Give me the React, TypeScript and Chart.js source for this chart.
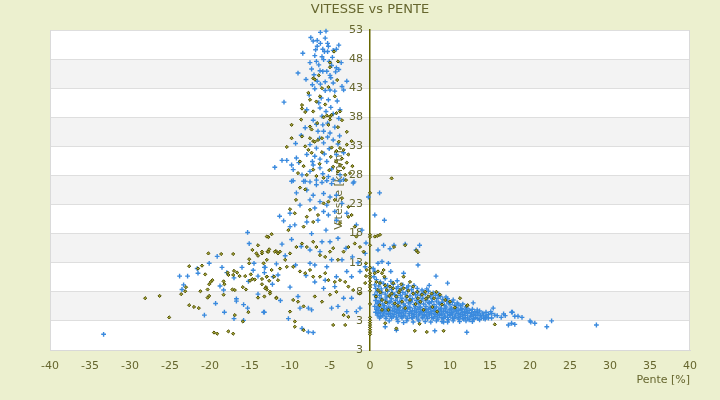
import { useEffect, useRef } from 'react'
import { Chart, registerables } from 'chart.js'

Chart.register(...registerables)

// [pente %, vitesse km/h]
const bluePoints: [number, number][] = [
  // left wing
  [-15.3, 18.2], [-15.1, 16.3], [-19.1, 14.1], [-20.1, 12.9], [-18.5, 12.2], [-21.6, 12.0], [-21.5, 11.2], [-23.8, 10.7],
  [-22.8, 10.7], [-23.5, 8.4], [-18.75, 9.0], [-18.3, 8.3], [-17.9, 11.3], [-17.0, 10.4], [-16.0, 12.2], [-14.5, 12.9],
  [-14.6, 11.7], [-14.0, 10.7], [-13.2, 12.2], [-13.2, 11.3], [-11.7, 12.8], [-11.5, 10.9], [-12.2, 9.3], [-15.2, 9.8],
  [-14.0, 7.6], [-16.7, 6.8], [-16.7, 6.4], [-19.3, 6.0], [-15.8, 5.8], [-15.3, 5.2], [-13.2, 4.5], [-18.2, 4.5],
  [-20.7, 4.0], [-17.0, 3.4], [-15.8, 3.1], [-33.3, 0.7], [-23.3, 9.2],
  // upper column
  [-7.4, 51.7], [-6.2, 52.6], [-5.5, 52.8], [-7.1, 51.1], [-6.6, 51.2], [-6.2, 50.7], [-6.6, 50.2], [-5.3, 50.7],
  [-5.2, 50.2], [-3.9, 50.4], [-4.2, 49.7], [-4.6, 49.5], [-5.3, 49.3], [-5.9, 49.7], [-5.7, 49.3], [-7.5, 47.4],
  [-9.0, 45.6], [-6.7, 47.6], [-6.4, 47.0], [-5.8, 47.9], [-5.1, 47.6], [-4.8, 46.9], [-4.2, 46.5], [-3.9, 46.2],
  [-4.3, 45.8], [-5.4, 45.9], [-5.9, 45.9], [-6.25, 46.0], [-6.6, 44.2], [-6.2, 43.7], [-5.6, 42.6], [-5.0, 42.7],
  [-4.4, 42.5], [-3.5, 43.3], [-2.9, 44.2], [-3.3, 42.7], [-4.6, 43.9], [-10.75, 40.6], [-7.9, 39.3], [-6.25, 39.6],
  [-4.9, 39.7], [-4.6, 38.6], [-3.75, 39.3], [-5.5, 39.0], [-8.1, 36.2], [-6.7, 36.8], [-5.8, 35.6], [-5.0, 35.3],
  [-4.6, 34.1], [-5.8, 33.6], [-6.7, 32.7], [-7.5, 33.3], [-7.9, 31.6], [-9.2, 31.0], [-11.0, 30.6], [-10.4, 30.6],
  [-9.8, 29.8], [-9.6, 29.0], [-8.5, 28.1], [-7.5, 28.7], [-6.25, 29.3], [-5.4, 30.4], [-4.2, 31.6], [-3.3, 31.9],
  [-6.25, 30.8], [-7.1, 29.8], [-5.2, 27.8], [-4.6, 27.3], [-3.75, 28.1], [-2.1, 26.7], [-8.3, 27.0], [-9.8, 27.0],
  [-6.7, 26.4], [-8.0, 44.5], [-7.0, 45.3], [-4.9, 44.8], [-5.6, 44.1], [-6.9, 42.9], [-7.6, 41.8], [-6.1, 41.3],
  [-5.2, 41.0], [-4.1, 40.8], [-8.4, 49.0], [-6.9, 48.6], [-4.7, 48.3], [-5.6, 51.6], [-6.8, 49.6], [-6.0, 38.2],
  [-7.1, 37.5], [-5.3, 37.0], [-4.4, 36.3], [-3.9, 37.8], [-8.6, 34.9], [-6.3, 34.4], [-3.8, 34.8], [-5.1, 32.6],
  [-4.0, 33.4], [-9.3, 33.5], [-11.9, 29.4], [-8.9, 30.2], [-6.9, 31.3], [-5.7, 31.7],
  [-6.0, 48.4], [-5.0, 45.2], [-7.3, 46.3], [-3.6, 47.4], [-6.4, 40.5], [-7.2, 43.6], [-5.9, 36.7], [-6.5, 35.6],
  [-5.3, 34.6], [-7.2, 30.4], [-4.8, 29.1], [-5.9, 28.3],
  // middle column
  [-9.6, 27.1], [-8.1, 27.0], [-7.5, 26.9], [-6.7, 27.2], [-6.0, 26.8], [-5.4, 27.1], [-4.8, 26.6], [-3.75, 27.0],
  [-3.3, 27.3], [-2.0, 26.9], [-9.2, 25.0], [-7.9, 25.5], [-7.1, 24.6], [-5.8, 24.9], [-5.0, 24.3], [-4.2, 24.6],
  [-3.5, 23.2], [-5.4, 22.9], [-6.25, 23.5], [-7.5, 23.8], [-6.9, 22.4], [-5.8, 21.8], [-5.2, 21.2], [-4.4, 21.8],
  [-2.9, 21.5], [-4.2, 20.3], [-6.5, 20.3], [-7.9, 20.0], [-8.75, 22.9], [-10.0, 21.5], [-11.3, 21.0], [-10.8, 20.2],
  [-10.0, 19.2], [-9.4, 19.5], [-1.7, 19.5], [-1.0, 18.6], [-11.0, 16.2], [-6.0, 16.6], [-5.0, 16.6], [-7.5, 15.2],
  [-6.25, 14.9], [-4.8, 13.5], [-3.5, 13.5], [-6.9, 12.6], [-7.5, 12.9], [-5.4, 12.3], [-2.9, 11.5], [-2.3, 10.6],
  [-1.25, 11.5], [-4.2, 10.6], [-5.6, 10.0], [-6.9, 9.7], [-5.8, 8.6], [-4.4, 8.9], [-3.3, 6.9], [-2.3, 6.9],
  [-1.25, 5.2], [-4.0, 5.5], [-4.8, 5.2], [-7.3, 4.9], [-7.7, 5.2], [-8.75, 5.2], [-2.9, 4.6], [-1.7, 4.6],
  [-12.1, 10.6], [-13.1, 12.2], [-13.3, 4.5], [-8.5, 1.7], [-7.7, 1.1], [-7.1, 1.0], [-10.2, 3.4], [-10.0, 8.8],
  [-9.0, 7.2], [-11.2, 6.5], [-8.0, 10.8], [-9.3, 12.6], [-10.6, 14.2], [-8.6, 15.8], [-9.8, 17.0], [-7.3, 18.0],
  [-5.5, 18.6], [-4.0, 17.2], [-3.0, 15.5], [-2.2, 14.0], [-1.5, 13.0], [-0.6, 12.3], [-0.5, 16.4], [-0.6, 14.6],
  // right of the axis, sparse
  [1.2, 25.0], [0.6, 21.2], [1.8, 20.3], [-0.2, 24.3], [1.0, 15.2], [1.7, 16.0], [2.5, 15.4], [3.0, 16.0],
  [4.4, 16.2], [6.2, 16.0], [5.75, 15.2], [6.0, 12.6], [1.0, 12.9], [1.5, 13.2], [2.3, 12.9], [0.4, 12.0],
  [0.6, 11.5], [4.2, 11.2], [2.6, 11.5], [8.25, 10.7], [9.7, 9.5], [7.4, 9.1], [12.9, 6.1], [15.4, 5.2],
  [16.7, 4.2], [17.7, 4.5], [19.0, 3.6], [20.0, 3.0], [20.6, 2.6], [22.1, 2.0], [22.7, 3.0], [12.1, 1.05],
  [8.1, 1.3], [3.3, 1.4], [1.9, 2.0], [4.2, 2.7], [17.8, 4.5], [18.1, 3.8], [18.5, 3.8], [20.1, 2.8],
  [28.3, 2.3], [40.7, 0.7], [17.3, 2.3], [17.7, 2.6], [18.1, 2.4], [9.2, 2.8], [15.9, 3.9], [16.4, 3.6],
  [15.2, 4.3], [16.9, 3.9], [14.8, 3.5],
  // dense cluster on the descent
  [0.8, 10.1], [1.3, 9.7], [1.9, 10.3], [2.6, 9.8], [3.4, 9.9], [0.5, 10.6],
  [0.6, 9.2], [1.1, 9.0], [1.7, 9.4], [2.2, 9.1], [2.9, 9.3], [3.5, 8.9], [4.1, 9.2], [4.8, 9.0], [5.5, 9.1],
  [0.7, 8.6], [1.4, 8.5], [2.0, 8.7], [2.7, 8.4], [3.3, 8.6], [3.9, 8.5], [4.6, 8.7], [5.2, 8.4], [5.9, 8.6],
  [6.5, 8.3], [7.1, 8.5],
  [0.9, 8.0], [1.5, 7.9], [2.2, 8.1], [2.8, 7.8], [3.5, 8.0], [4.1, 7.9], [4.7, 8.1], [5.4, 7.8], [6.0, 8.0],
  [6.7, 7.9], [7.3, 8.1], [7.9, 7.8], [8.6, 7.6],
  [0.6, 7.5], [1.2, 7.4], [1.9, 7.6], [2.5, 7.3], [3.1, 7.5], [3.8, 7.4], [4.4, 7.6], [5.0, 7.3], [5.7, 7.5],
  [6.3, 7.4], [6.9, 7.6], [7.6, 7.3], [8.2, 7.4], [8.8, 7.2], [9.5, 7.1],
  [0.8, 7.0], [1.4, 6.9], [2.1, 7.1], [2.7, 6.8], [3.4, 7.0], [4.0, 6.9], [4.6, 7.1], [5.3, 6.8], [5.9, 7.0],
  [6.6, 6.9], [7.2, 7.0], [7.8, 6.8], [8.5, 6.9], [9.1, 6.7], [9.7, 6.8], [10.4, 6.6],
  [0.7, 6.5], [1.3, 6.4], [1.9, 6.6], [2.6, 6.3], [3.2, 6.5], [3.9, 6.4], [4.5, 6.6], [5.1, 6.3], [5.8, 6.5],
  [6.4, 6.4], [7.0, 6.5], [7.7, 6.3], [8.3, 6.4], [9.0, 6.2], [9.6, 6.4], [10.3, 6.2], [10.9, 6.1], [11.6, 5.9],
  [1.1, 6.25], [2.4, 6.2], [3.7, 6.3], [5.0, 6.15], [6.2, 6.25], [7.4, 6.2], [8.6, 6.1], [9.8, 6.05], [11.0, 5.9],
  [0.9, 6.0], [1.6, 5.9], [2.2, 6.1], [2.9, 5.8], [3.5, 6.0], [4.2, 5.9], [4.8, 6.1], [5.5, 5.8], [6.1, 6.0],
  [6.7, 5.9], [7.4, 6.0], [8.0, 5.8], [8.7, 5.9], [9.3, 5.7], [10.0, 5.8], [10.6, 5.7], [11.3, 5.6], [12.0, 5.4],
  [0.6, 5.5], [1.2, 5.4], [1.8, 5.6], [2.5, 5.3], [3.1, 5.5], [3.8, 5.4], [4.4, 5.6], [5.0, 5.3], [5.7, 5.5],
  [6.3, 5.4], [7.0, 5.5], [7.6, 5.3], [8.3, 5.4], [8.9, 5.2], [9.5, 5.4], [10.2, 5.2], [10.8, 5.3], [11.5, 5.1],
  [12.1, 5.2], [12.8, 5.0], [13.4, 4.9],
  [1.0, 5.25], [1.7, 5.2], [2.3, 5.3], [3.0, 5.2], [3.6, 5.25], [4.3, 5.15], [4.9, 5.3], [5.6, 5.2], [6.2, 5.25],
  [6.9, 5.1], [7.5, 5.2], [8.1, 5.15], [8.8, 5.05], [9.4, 5.1], [10.1, 5.0], [10.7, 5.05], [11.4, 4.95], [12.0, 4.9],
  [0.8, 5.0], [1.5, 4.9], [2.1, 5.1], [2.8, 4.8], [3.4, 5.0], [4.1, 4.9], [4.7, 5.1], [5.3, 4.8], [6.0, 5.0],
  [6.6, 4.9], [7.3, 5.0], [7.9, 4.8], [8.6, 4.9], [9.2, 4.7], [9.9, 4.9], [10.5, 4.7], [11.1, 4.8], [11.8, 4.6],
  [12.4, 4.8], [13.1, 4.6], [13.7, 4.7], [14.5, 4.5], [15.1, 4.6],
  [1.1, 4.75], [1.8, 4.7], [2.4, 4.8], [3.1, 4.65], [3.7, 4.75], [4.4, 4.7], [5.0, 4.6], [5.6, 4.7], [6.3, 4.65],
  [6.9, 4.75], [7.6, 4.6], [8.2, 4.65], [8.9, 4.55], [9.5, 4.6], [10.2, 4.5], [10.8, 4.55], [11.5, 4.45], [12.1, 4.5],
  [12.7, 4.4], [13.4, 4.45], [14.1, 4.35],
  [0.7, 4.5], [1.3, 4.4], [2.0, 4.6], [2.6, 4.3], [3.3, 4.5], [3.9, 4.4], [4.5, 4.6], [5.2, 4.3], [5.8, 4.5],
  [6.5, 4.4], [7.1, 4.5], [7.7, 4.3], [8.4, 4.4], [9.0, 4.2], [9.7, 4.4], [10.3, 4.2], [11.0, 4.3], [11.6, 4.1],
  [12.2, 4.3], [12.9, 4.1], [13.5, 4.2], [14.2, 4.0], [14.8, 4.1], [15.6, 4.0],
  [1.0, 4.25], [1.7, 4.2], [2.3, 4.3], [3.0, 4.15], [3.6, 4.25], [4.2, 4.2], [4.9, 4.3], [5.5, 4.15], [6.2, 4.2],
  [6.8, 4.1], [7.4, 4.2], [8.1, 4.1], [8.7, 4.15], [9.3, 4.0], [10.0, 4.1], [10.7, 4.0], [11.3, 4.05], [11.9, 3.95],
  [12.6, 4.0], [13.2, 3.9], [13.8, 3.95], [14.5, 3.85],
  [0.9, 4.0], [1.6, 3.9], [2.3, 4.1], [2.9, 3.8], [3.6, 4.0], [4.2, 3.9], [4.9, 4.0], [5.5, 3.8], [6.1, 4.0],
  [6.8, 3.9], [7.4, 4.0], [8.1, 3.8], [8.7, 3.9], [9.4, 3.7], [10.0, 3.9], [10.6, 3.7], [11.3, 3.8], [11.9, 3.6],
  [12.6, 3.8], [13.2, 3.6], [13.9, 3.7], [14.5, 3.6], [15.2, 3.5],
  [1.3, 3.75], [2.0, 3.7], [2.6, 3.8], [3.3, 3.65], [3.9, 3.75], [4.5, 3.7], [5.2, 3.6], [5.8, 3.7], [6.5, 3.65],
  [7.1, 3.7], [7.7, 3.6], [8.4, 3.65], [9.0, 3.55], [9.7, 3.6], [10.3, 3.5], [11.0, 3.55], [11.6, 3.45], [12.2, 3.5],
  [12.9, 3.45], [13.5, 3.4], [14.2, 3.45],
  [1.2, 3.5], [2.0, 3.4], [2.7, 3.5], [3.4, 3.3], [4.0, 3.5], [4.7, 3.4], [5.3, 3.5], [6.0, 3.3], [6.6, 3.5],
  [7.2, 3.4], [7.9, 3.4], [8.5, 3.3], [9.2, 3.4], [9.8, 3.2], [10.5, 3.4], [11.1, 3.3], [11.7, 3.3], [12.4, 3.2],
  [13.0, 3.3], [13.7, 3.2], [14.4, 3.3],
  [2.4, 3.0], [3.5, 2.9], [4.6, 3.0], [5.4, 2.8], [6.1, 3.0], [6.9, 2.9], [7.6, 2.8], [8.3, 3.0], [9.0, 2.9],
  [9.7, 2.8], [10.4, 3.0], [11.2, 2.9], [12.0, 3.0], [12.8, 2.9],
]

const olivePoints: [number, number][] = [
  // left wing
  [-12.3, 17.9], [-12.7, 17.4], [-14.0, 16.0], [-14.7, 15.2], [-20.2, 14.6], [-18.6, 14.5], [-17.1, 14.5],
  [-14.2, 14.6], [-13.5, 14.6], [-14.0, 14.2], [-12.6, 15.3], [-12.8, 14.9], [-11.75, 15.0], [-11.5, 14.6],
  [-15.1, 13.6], [-15.1, 12.9], [-22.6, 12.4], [-21.0, 12.5], [-21.5, 12.0], [-20.6, 11.0],
  [-17.8, 11.3], [-17.0, 11.6], [-16.6, 11.3], [-17.7, 10.9], [-17.1, 10.9],
  [-16.3, 10.7], [-15.6, 10.7], [-14.9, 11.0], [-14.7, 10.2], [-15.0, 9.9], [-14.4, 10.1], [-13.5, 10.2],
  [-12.9, 10.6], [-12.6, 9.9], [-12.0, 10.6], [-11.5, 10.0],
  [-19.7, 10.0], [-19.9, 9.7], [-20.1, 9.3], [-18.3, 9.8], [-18.2, 9.3], [-23.0, 8.8], [-23.1, 8.1], [-23.6, 7.6],
  [-21.2, 8.1], [-20.3, 8.4], [-20.3, 7.0], [-20.1, 7.3], [-18.3, 7.5], [-17.2, 8.4], [-16.9, 8.3], [-15.9, 8.8],
  [-15.5, 8.4], [-13.0, 8.8], [-12.9, 8.4], [-12.5, 8.0], [-14.0, 7.0], [-13.2, 7.2], [-11.7, 7.0], [-28.1, 6.9],
  [-26.3, 7.3], [-22.6, 5.7], [-22.0, 5.4], [-21.4, 5.2], [-25.1, 3.6], [-16.9, 4.0], [-15.2, 4.5], [-15.9, 2.9],
  [-19.5, 1.0], [-19.1, 0.8], [-17.7, 1.2], [-17.1, 0.8],
  // upper column
  [-4.5, 49.3], [-4.0, 47.6], [-5.0, 47.4], [-7.1, 44.7], [-6.9, 44.5], [-5.2, 43.2], [-7.7, 42.2], [-7.5, 41.0],
  [-6.25, 41.6], [-6.7, 40.7], [-8.5, 40.1], [-8.5, 39.5], [-8.1, 38.9], [-7.1, 39.0], [-5.8, 38.0], [-5.4, 38.3],
  [-4.8, 38.4], [-5.0, 37.6], [-5.2, 36.7], [-4.2, 38.7], [-3.75, 39.0], [-9.8, 36.7], [-7.5, 36.4], [-7.3, 35.9],
  [-4.0, 36.3], [-2.9, 35.5], [-9.8, 34.4], [-7.5, 34.4], [-7.1, 33.9], [-6.5, 34.1], [-10.4, 32.9], [-8.1, 33.0],
  [-7.7, 32.4], [-7.3, 31.9], [-4.8, 32.8], [-4.2, 32.2], [-3.75, 32.7], [-3.3, 32.4], [-2.9, 33.3], [-2.3, 33.9],
  [-2.7, 31.6], [-8.75, 30.4], [-8.3, 29.6], [-9.0, 28.4], [-7.9, 28.1], [-7.1, 29.0], [-6.7, 27.9], [-5.8, 27.6],
  [-4.2, 30.4], [-3.75, 29.8], [-3.3, 29.3], [-4.0, 28.7], [-3.1, 28.1], [-2.5, 28.4], [2.7, 27.5],
  [-3.5, 30.9], [-2.9, 30.2], [-4.6, 29.5], [-3.0, 27.2], [-4.9, 31.2], [-3.9, 33.8], [-6.0, 32.0], [-6.3, 30.0],
  [-5.1, 28.9], [-2.2, 29.6], [-8.6, 37.6], [-6.6, 37.0], [-5.6, 40.2], [-4.4, 41.6], [-6.0, 43.0], [-4.1, 44.4],
  [-6.4, 45.2], [-5.0, 46.6], [-5.0, 38.1], [-3.5, 37.5], [-8.5, 34.7], [-6.9, 33.8], [-6.0, 34.4],
  // middle column
  [-8.75, 25.9], [-8.1, 25.6], [-9.25, 23.8], [-10.0, 22.2], [-9.4, 21.5], [-7.5, 22.1], [-7.9, 20.9], [-6.5, 21.2],
  [-5.8, 23.2], [-5.2, 23.5], [-4.4, 23.8], [-3.5, 24.1], [-2.7, 22.6], [-2.3, 21.2], [-1.9, 19.2], [-2.7, 20.9],
  [-3.75, 19.8], [-7.1, 20.0], [-8.3, 19.2], [-10.2, 18.6], [-12.9, 17.5], [-13.5, 14.9], [-12.7, 14.9],
  [-11.9, 14.9], [-11.25, 14.9], [-10.6, 13.5], [-10.0, 14.6], [-9.2, 15.7], [-8.5, 16.3], [-7.9, 15.7],
  [-7.1, 16.6], [-6.7, 15.7], [-6.25, 14.3], [-5.6, 14.0], [-5.0, 14.9], [-4.6, 15.5], [-4.0, 13.5], [-3.3, 14.9],
  [-2.7, 15.7], [-1.9, 16.3], [-1.7, 17.5], [-1.25, 15.7], [-0.8, 14.9], [-13.3, 12.9], [-12.9, 13.5],
  [-12.3, 11.75], [-11.25, 12.0], [-10.4, 12.3], [-9.6, 12.3], [-8.75, 11.5], [-8.1, 11.2], [-7.5, 11.75],
  [-7.1, 10.6], [-6.25, 10.6], [-5.6, 11.2], [-5.2, 10.0], [-4.4, 9.7], [-3.75, 10.0], [-3.1, 9.7], [-2.7, 8.9],
  [-2.1, 8.3], [-1.25, 7.7], [-0.6, 9.5], [-13.5, 9.3], [-12.9, 10.6], [-13.1, 8.6], [-12.5, 7.7], [-11.7, 6.9],
  [-9.6, 6.6], [-9.0, 6.3], [-8.3, 5.5], [-6.9, 7.2], [-6.0, 6.3], [-5.0, 7.5], [-4.2, 8.0], [-3.3, 4.0],
  [-2.7, 3.7], [-4.6, 2.3], [-3.1, 2.3], [-9.4, 2.9], [-9.4, 2.0], [-8.3, 1.4], [-10.0, 4.6],
  [-0.5, 12.9], [-0.4, 11.75], [-0.5, 10.7],
  // on the zero line
  [0, 25.0], [0, 17.8], [0, 17.4], [0, 16.0], [0, 12.2], [0, 11.2], [0, 10.8], [0, 10.4], [0, 9.8], [0, 9.2],
  [0, 8.8], [0, 8.2], [0, 5.9], [0, 3.6], [0, 3.1], [0, 2.7], [0, 2.3], [0, 1.9], [0, 1.5], [0, 1.1], [0, 0.7],
  // right of the axis
  [0.6, 17.5], [0.9, 17.6], [1.25, 17.8], [3.0, 15.7], [4.4, 16.0], [5.8, 15.1], [6.0, 14.8], [0.6, 11.2],
  [1.0, 11.5], [1.5, 11.2], [1.7, 11.75], [1.8, 10.6], [0.8, 9.7], [1.25, 9.5], [1.0, 8.3], [0.75, 7.2],
  [1.5, 6.6], [1.2, 5.7], [1.5, 4.9], [2.1, 8.3], [2.5, 8.9], [2.9, 8.6], [2.7, 7.7], [3.3, 7.2], [3.75, 8.3],
  [4.2, 8.6], [4.6, 7.2], [5.0, 6.6], [4.0, 6.3], [5.4, 7.7], [6.0, 6.9], [6.5, 7.5], [6.9, 8.0], [7.3, 7.2],
  [7.7, 7.7], [8.3, 8.0], [8.75, 7.5], [9.4, 6.6], [10.0, 6.3], [11.25, 6.9], [12.1, 5.6], [3.1, 6.0], [2.3, 4.9],
  [1.9, 2.6], [3.3, 1.7], [5.6, 1.3], [6.2, 2.5], [7.1, 1.1], [9.2, 1.3], [15.6, 2.4], [4.2, 10.6], [5.0, 9.7],
  [5.4, 8.9], [12.2, 5.7], [1.9, 9.1], [2.4, 7.3], [3.6, 7.9], [4.8, 8.2], [5.9, 8.0], [6.3, 6.3], [7.0, 6.8],
  [8.0, 6.9], [3.5, 5.6], [2.0, 6.2], [4.4, 5.2], [5.7, 5.9], [7.8, 5.4], [9.0, 5.8], [10.6, 5.3], [8.4, 4.6],
  [6.7, 4.9], [1.3, 7.9], [2.9, 9.5], [3.9, 9.3],
]

const xMin = -40
const xMax = 40
const xStep = 5
const yTickValues = [-2, 3, 8, 13, 18, 23, 28, 33, 38, 43, 48, 53]
const yTickLabels = ['3', '3', '8', '13', '18', '23', '28', '33', '38', '43', '48', '53']

const FONT = "'DejaVu Sans', Verdana, sans-serif"
const TEXT = '#66662e'

const plotPlugin = {
  id: 'plotDecor',
  beforeDraw(chart: any) {
    const { ctx, chartArea: a, scales } = chart
    const y = scales.y
    ctx.save()
    ctx.fillStyle = '#ffffff'
    ctx.fillRect(a.left, a.top, a.right - a.left, a.bottom - a.top)
    ctx.fillStyle = '#f3f3f3'
    for (let i = 1; i < yTickValues.length - 1; i += 2) {
      const y0 = y.getPixelForValue(yTickValues[i])
      const y1 = y.getPixelForValue(yTickValues[i + 1])
      ctx.fillRect(a.left, y1, a.right - a.left, y0 - y1)
    }
    ctx.restore()
  },
  beforeDatasetsDraw(chart: any) {
    const { ctx, chartArea: a, scales } = chart
    const x0 = scales.x.getPixelForValue(0)
    ctx.save()
    // side borders of the plot
    ctx.strokeStyle = '#dadada'
    ctx.lineWidth = 1
    ctx.beginPath()
    ctx.moveTo(a.left + 0.5, a.top)
    ctx.lineTo(a.left + 0.5, a.bottom)
    ctx.moveTo(a.right - 0.5, a.top)
    ctx.lineTo(a.right - 0.5, a.bottom)
    ctx.stroke()
    // y tick labels beside the zero axis
    ctx.fillStyle = TEXT
    ctx.font = `11px ${FONT}`
    ctx.textAlign = 'right'
    ctx.textBaseline = 'middle'
    yTickValues.forEach((v, i) => {
      ctx.fillText(yTickLabels[i], x0 - 7, scales.y.getPixelForValue(v))
    })
    // y title
    ctx.translate(x0 - 31, (a.top + a.bottom) / 2)
    ctx.rotate(-Math.PI / 2)
    ctx.textAlign = 'center'
    ctx.fillText('Vitesse [km/h]', 0, 0)
    ctx.restore()
  },
}

export default function App() {
  const canvasRef = useRef<HTMLCanvasElement>(null)
  const chartRef = useRef<Chart | null>(null)

  useEffect(() => {
    document.body.style.margin = '0'
    if (!canvasRef.current) return
    if (chartRef.current) chartRef.current.destroy()

    chartRef.current = new Chart(canvasRef.current, {
      type: 'scatter',
      data: {
        datasets: [
          {
            label: 'olive',
            data: olivePoints.map(([x, y]) => ({ x, y })),
            pointStyle: 'rectRot',
            pointRadius: 1.6,
            pointBorderWidth: 1,
            pointBorderColor: '#4f4f00',
            pointBackgroundColor: '#a3a338',
            clip: false,
          },
          {
            label: 'bleu',
            data: bluePoints.map(([x, y]) => ({ x, y })),
            pointStyle: 'cross',
            pointRadius: 2.4,
            pointBorderWidth: 1.4,
            pointBorderColor: '#3a8ade',
            clip: false,
          },
        ],
      },
      options: {
        animation: false,
        responsive: true,
        maintainAspectRatio: false,
        events: [],
        layout: { padding: { left: 50, right: 30, top: 0, bottom: 0 } },
        plugins: {
          legend: { display: false },
          tooltip: { enabled: false },
          title: {
            display: true,
            text: 'VITESSE vs PENTE',
            color: TEXT,
            font: { family: FONT, size: 13, weight: 'normal' },
            padding: { top: 2, bottom: 12.4 },
          },
        },
        scales: {
          x: {
            type: 'linear',
            position: 'bottom',
            min: xMin,
            max: xMax,
            afterFit: (s: any) => { s.height = 50 },
            ticks: {
              stepSize: xStep,
              autoSkip: false,
              maxRotation: 0,
              padding: 10,
              color: TEXT,
              font: { family: FONT, size: 11 },
            },
            grid: { display: false, drawTicks: false },
            border: { display: true, color: '#d9d9d9' },
            title: {
              display: true,
              text: 'Pente [%]',
              align: 'end',
              color: TEXT,
              font: { family: FONT, size: 11 },
              padding: { top: 4, bottom: 13 },
            },
          },
          y: {
            type: 'linear',
            position: { x: 0 },
            min: yTickValues[0],
            max: yTickValues[yTickValues.length - 1],
            afterBuildTicks: (s: any) => { s.ticks = yTickValues.map(value => ({ value })) },
            ticks: { display: false },
            grid: { color: '#dedede', drawTicks: false },
            border: { display: true, color: '#666600', width: 1.5 },
          },
        },
      },
      plugins: [plotPlugin],
    } as any)

    return () => {
      if (chartRef.current) {
        chartRef.current.destroy()
        chartRef.current = null
      }
    }
  }, [])

  return (
    <div style={{ width: 720, height: 400, background: '#ecf0cf' }}>
      <canvas ref={canvasRef} />
    </div>
  )
}
